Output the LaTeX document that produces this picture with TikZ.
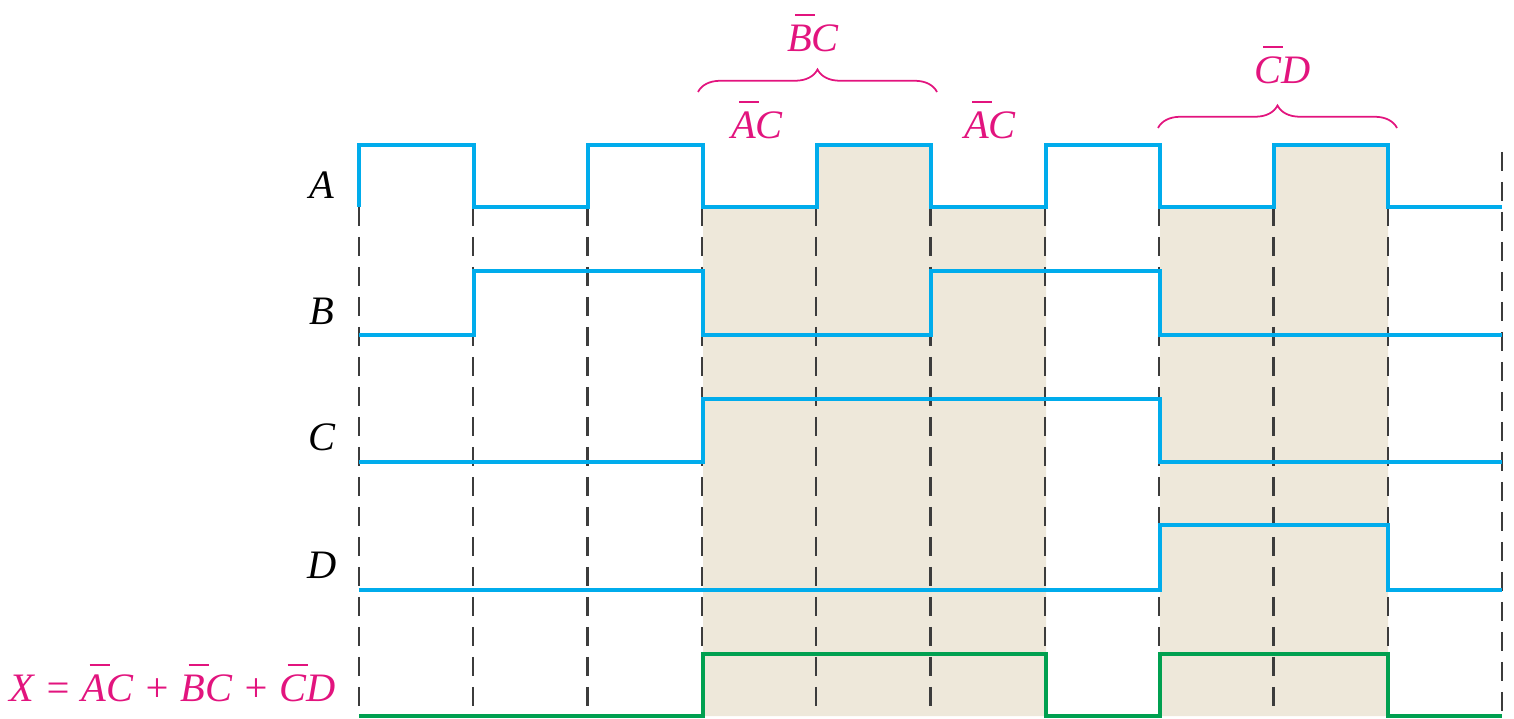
\documentclass[tikz,border=0pt]{standalone}
\usepackage{fontspec}
\setmainfont{Liberation Serif}
\usepackage{xcolor}
\usepackage{tikz}
\usetikzlibrary{decorations.pathreplacing}

\definecolor{wave}{RGB}{0,172,236}
\definecolor{outwave}{RGB}{0,160,80}
\definecolor{term}{RGB}{226,20,126}
\definecolor{sandbg}{RGB}{238,232,218}
\definecolor{gridgray}{RGB}{60,60,60}

\tikzset{
    signal/.style={wave, line width=2.8pt, line join=miter},
    outsignal/.style={outwave, line width=2.8pt, line join=miter},
    timetick/.style={gridgray, line width=1.3pt, dash pattern=on 0.38cm off 0.22cm},
    signame/.style={font=\fontsize{23}{27}\selectfont\itshape},
    termlabel/.style={term, font=\fontsize{23}{27}\selectfont\itshape},
    bracket/.style={term, line width=1pt, decorate, decoration={brace, amplitude=0.45cm}}
}

% letter with a short bar over it
\newcommand{\nb}[1]{\makebox[0pt][l]{\hspace{0.2em}\rule[0.9em]{0.5em}{0.045em}}#1}

\begin{document}
\begin{tikzpicture}[x=0.02cm, y=-0.02cm]
    \useasboundingbox (0,0) rectangle (1514,719);

    % Shaded regions where X is high
    \fill[sandbg] (703,207) -- (817,207) -- (817,145) -- (931,145) -- (931,207) -- (1046,207) -- (1046,716) -- (703,716) -- cycle;
    \fill[sandbg] (1160,207) -- (1274,207) -- (1274,145) -- (1388,145) -- (1388,716) -- (1160,716) -- cycle;

    % Time grid
    \foreach \i in {0,...,9}
        \draw[timetick] ({359+114.3*\i},207) -- ({359+114.3*\i},716);
    \draw[timetick] (1502,152) -- (1502,716);

    % Inputs
    \draw[signal] (359,207) -- (359,145) -- (474,145) -- (474,207) -- (588,207) -- (588,145) -- (703,145) -- (703,207) -- (817,207) -- (817,145) -- (931,145) -- (931,207) -- (1046,207) -- (1046,145) -- (1160,145) -- (1160,207) -- (1274,207) -- (1274,145) -- (1388,145) -- (1388,207) -- (1502,207);
    \draw[signal] (359,335) -- (474,335) -- (474,271) -- (703,271) -- (703,335) -- (931,335) -- (931,271) -- (1160,271) -- (1160,335) -- (1502,335);
    \draw[signal] (359,462) -- (703,462) -- (703,399) -- (1160,399) -- (1160,462) -- (1502,462);
    \draw[signal] (359,590) -- (1160,590) -- (1160,525) -- (1388,525) -- (1388,590) -- (1502,590);

    % Output
    \draw[outsignal] (359,716) -- (703,716) -- (703,654) -- (1046,654) -- (1046,716) -- (1160,716) -- (1160,654) -- (1388,654) -- (1388,716) -- (1502,716);

    % Signal names
    \node[signame] (nA) at (322,185) {A};
    \node[signame] (nB) at (322,311) {B};
    \node[signame] (nC) at (322,437) {C};
    \node[signame] (nD) at (322,565) {D};
    \node[termlabel, anchor=east] (nX) at (342,683) {X = \nb{A}C + \nb{B}C + \nb{C}D};

    % Product terms
    \coordinate (bcL) at (698,92);
    \coordinate (bcR) at (937,92);
    \draw[bracket] (bcL) -- (bcR);
    \node[termlabel] (tBC) at (813,33) {\nb{B}C};
    \node[termlabel] (tAC1) at (757,120) {\nb{A}C};
    \node[termlabel] (tAC2) at (990,120) {\nb{A}C};

    \coordinate (cdL) at (1158,128);
    \coordinate (cdR) at (1397,128);
    \draw[bracket] (cdL) -- (cdR);
    \node[termlabel] (tCD) at (1283,65) {\nb{C}D};
\end{tikzpicture}
\end{document}
